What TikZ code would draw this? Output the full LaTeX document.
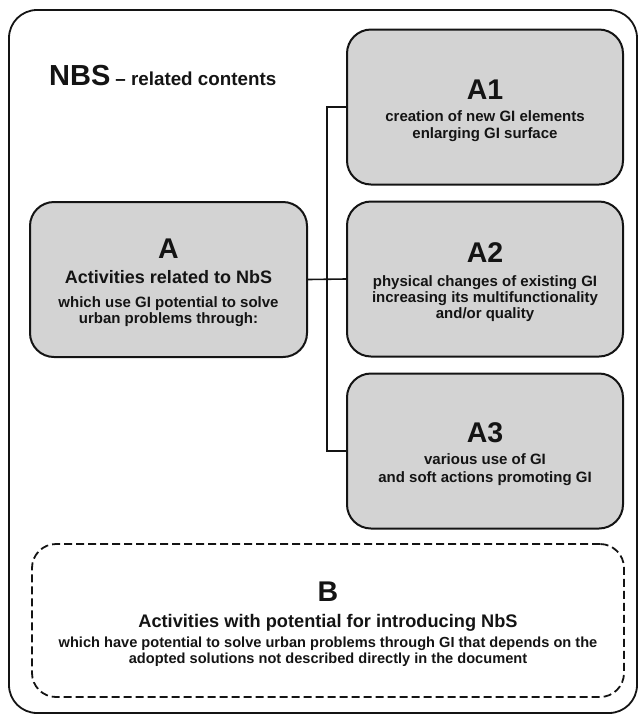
\documentclass[tikz,border=0pt]{standalone}
\usepackage{fontspec}
\setmainfont{Liberation Sans}
\definecolor{boxgray}{RGB}{211,211,211}
\definecolor{ink}{RGB}{20,20,20}
\newcommand{\tline}[3]{\fontsize{#1}{#2}\selectfont #3\par}
\begin{document}
\begin{tikzpicture}[x=1pt,y=-1pt,
  box/.style={draw=ink,line width=2pt,rounded corners=24pt,fill=boxgray,
    minimum width=276pt,minimum height=155pt,inner sep=0pt},
  txt/.style={inner sep=0pt,text=ink,font=\bfseries},
  conn/.style={draw=ink,line width=1.6pt}]
\useasboundingbox (0,0) rectangle (641,716);
\draw[draw=ink,line width=1.8pt,rounded corners=28pt] (9,10) rectangle (637,713);
\node[anchor=base west,txt] (title) at (49,85)
  {\fontsize{29}{30}\selectfont NBS\hspace{5pt}\fontsize{18.8}{20}\selectfont – related contents};
% boxes
\node[box] (A1) at (485,107) {};
\node[box] (A2) at (485,279) {};
\node[box] (A3) at (485,451) {};
\node[box,minimum width=277pt] (A) at (168.5,279.5) {};
\node[draw=ink,line width=1.8pt,dash pattern=on 8pt off 4pt,rounded corners=24pt,
  minimum width=592pt,minimum height=153pt,inner sep=0pt] (B) at (328,620.5) {};
% texts
\node[txt] (A1t) at ([yshift=-4pt]A1.center) {\parbox{270pt}{\centering
  \tline{28.5}{20}{A1}\tline{15}{22}{creation of new GI elements}\tline{15}{17}{enlarging GI surface}}};
\node[txt] (A2t) at ([yshift=-3pt]A2.center) {\parbox{270pt}{\centering
  \tline{28.5}{20}{A2}\tline{15}{24}{physical changes of existing GI}\tline{15}{16.2}{increasing its multifunctionality}\tline{15}{16.2}{and/or quality}}};
\node[txt] (A3t) at ([yshift=-3pt]A3.center) {\parbox{270pt}{\centering
  \tline{28.5}{20}{A3}\tline{15}{22}{various use of GI}\tline{15}{18}{and soft actions promoting GI}}};
\node[txt] (At) at ([yshift=-3pt]A.center) {\parbox{270pt}{\centering
  \tline{28.5}{20}{A}\tline{18}{25}{Activities related to NbS}\tline{15}{24}{which use GI potential to solve}\tline{15}{16.2}{urban problems through:}}};
\node[txt] (Bt) at ([yshift=-4pt]B.center) {\parbox{580pt}{\centering
  \tline{28.5}{20}{B}\tline{18.2}{26}{Activities with potential for introducing NbS}\tline{14.6}{20}{which have potential to solve urban problems through GI that depends on the}\tline{14.6}{16.2}{adopted solutions not described directly in the document}}};
% connectors
\coordinate (J) at (327,279);
\draw[conn] (A.east) -- (A2.west);
\draw[conn] (A1.west) -- (A1.west -| J) -- (A3.west -| J) -- (A3.west);
\end{tikzpicture}
\end{document}
